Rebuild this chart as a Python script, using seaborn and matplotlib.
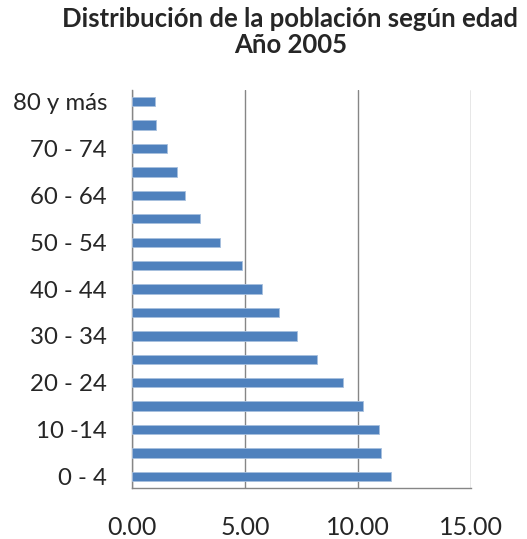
import numpy as np
import pandas as pd
import matplotlib
matplotlib.use("Agg")
import matplotlib.pyplot as plt
import seaborn as sns

# Grupos de edad y porcentaje de población (Año 2005)
grupos = ["0 - 4", "5 - 9", "10 -14", "15 - 19", "20 - 24", "25 - 29",
          "30 - 34", "35 - 39", "40 - 44", "45 - 49", "50 - 54", "55 - 59",
          "60 - 64", "65 - 69", "70 - 74", "75 - 79", "80 y más"]
porcentaje = [11.45, 11.02, 10.93, 10.22, 9.32, 8.19, 7.30, 6.50, 5.77,
              4.87, 3.91, 3.00, 2.33, 2.00, 1.55, 1.04, 1.02]
etiquetas_visibles = ["0 - 4", "10 -14", "20 - 24", "30 - 34", "40 - 44",
                      "50 - 54", "60 - 64", "70 - 74", "80 y más"]
x_ticks = [0, 5, 10, 15]

df = pd.DataFrame({"grupo": grupos, "porcentaje": porcentaje})

sns.set_style("white")
plt.rcParams["font.family"] = ["Lato", "DejaVu Sans"]

fig = plt.figure(figsize=(5.27, 5.39), dpi=100)
ax = fig.add_axes([0.2505, 0.0946, 0.6435, 0.7384])

orden = grupos[::-1]
sns.barplot(data=df, x="porcentaje", y="grupo", order=orden, orient="h",
            color="#4F81BD", saturation=1, width=0.4, edgecolor="#A7BFDE",
            linewidth=0.6, ax=ax, zorder=3)

ax.set_xlim(0, 15)
ax.set_ylim(len(grupos) - 0.5, -0.5)
ax.set_xticks(x_ticks)
ax.set_xticklabels([f"{v:.2f}" for v in x_ticks], fontsize=18)
ax.tick_params(axis="x", length=5, color="#868686", pad=15.5)

ax.set_yticks(range(len(orden)))
ax.set_yticklabels([g if g in etiquetas_visibles else "" for g in orden], fontsize=17.3)
ax.tick_params(axis="y", which="major", length=0, pad=18)
ax.set_yticks(np.arange(-0.5, len(orden), 1), minor=True)
ax.tick_params(axis="y", which="minor", length=7, color="#868686")

ax.grid(axis="x", color="#868686", linewidth=1, zorder=0)
ax.set_axisbelow(True)
for s in ["top", "right"]:
    ax.spines[s].set_visible(False)
for s in ["left", "bottom"]:
    ax.spines[s].set_color("#868686")
    ax.spines[s].set_linewidth(1)
ax.set_xlabel("")
ax.set_ylabel("")

fig.text(0.551, 0.94, "Distribución de la población según edad\nAño 2005",
         ha="center", va="center", fontsize=18.5, fontweight="bold",
         linespacing=1.1)

fig.savefig("out.png", dpi=100)
